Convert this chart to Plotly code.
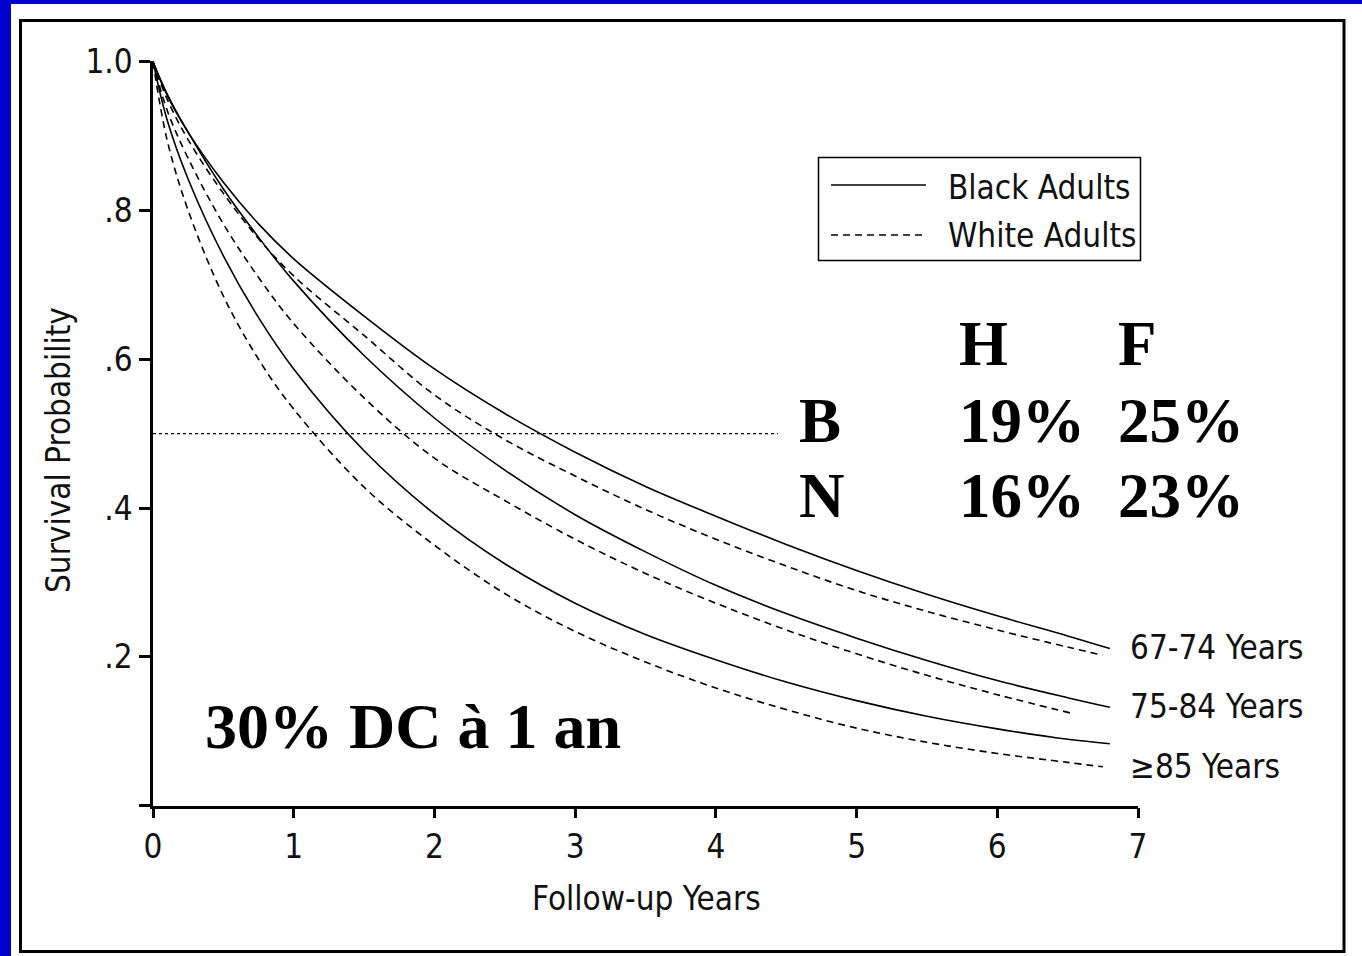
import plotly.graph_objects as go

W, H = 1362, 956

# Follow-up time (years) and survival probability for each age group / race
t_black_6774 = [0, 0.1, 0.25, 0.5, 0.75, 1, 1.5, 2, 2.5, 3, 3.5, 4, 4.5, 5, 5.5, 6, 6.5, 6.8]
s_black_6774 = [1, 0.955, 0.905, 0.838, 0.782, 0.735, 0.658, 0.587, 0.527, 0.475, 0.429, 0.389, 0.351, 0.316, 0.284, 0.255, 0.228, 0.211]

t_white_6774 = [0, 0.1, 0.25, 0.5, 0.75, 1, 1.5, 2, 2.5, 3, 3.5, 4, 4.5, 5, 5.5, 6, 6.5, 6.75]
s_white_6774 = [1, 0.95, 0.895, 0.823, 0.762, 0.712, 0.632, 0.552, 0.492, 0.443, 0.398, 0.358, 0.322, 0.289, 0.261, 0.236, 0.213, 0.202]

t_black_7584 = [0, 0.1, 0.25, 0.5, 0.75, 1, 1.5, 2, 2.5, 3, 3.5, 4, 4.5, 5, 5.5, 6, 6.5, 6.8]
s_black_7584 = [1, 0.957, 0.905, 0.829, 0.764, 0.705, 0.605, 0.521, 0.451, 0.391, 0.341, 0.296, 0.258, 0.225, 0.195, 0.168, 0.145, 0.132]

t_white_7584 = [0, 0.1, 0.25, 0.5, 0.75, 1, 1.5, 2, 2.5, 3, 3.5, 4, 4.5, 5, 5.5, 6, 6.55]
s_white_7584 = [1, 0.935, 0.87, 0.782, 0.71, 0.648, 0.548, 0.467, 0.41, 0.358, 0.312, 0.272, 0.236, 0.204, 0.175, 0.149, 0.123]

t_black_85 = [0, 0.1, 0.25, 0.5, 0.75, 1, 1.5, 2, 2.5, 3, 3.5, 4, 4.5, 5, 5.5, 6, 6.5, 6.8]
s_black_85 = [1, 0.922, 0.842, 0.739, 0.656, 0.587, 0.477, 0.392, 0.325, 0.272, 0.230, 0.196, 0.166, 0.141, 0.120, 0.103, 0.089, 0.083]

t_white_85 = [0, 0.1, 0.25, 0.5, 0.75, 1, 1.5, 2, 2.5, 3, 3.5, 4, 4.5, 5, 5.5, 6, 6.5, 6.75]
s_white_85 = [1, 0.895, 0.80, 0.685, 0.60, 0.533, 0.428, 0.35, 0.285, 0.234, 0.193, 0.158, 0.129, 0.104, 0.085, 0.070, 0.058, 0.052]

# Median reference line
median_t = [0, 4.44]
median_s = [0.5, 0.5]

x_ticks = [0, 1, 2, 3, 4, 5, 6, 7]
y_ticks = [0, 0.2, 0.4, 0.6, 0.8, 1.0]
y_tick_text = ["", ".2", ".4", ".6", ".8", "1.0"]

age_labels = ["67-74 Years", "75-84 Years", "\u226585 Years"]
age_label_y = [0.213, 0.1325, 0.052]

table_rows = [["", "H", "F"], ["B", "19%", "25%"], ["N", "16%", "23%"]]

NARROW = "DejaVu Sans Condensed, Liberation Sans Narrow, Arial Narrow, sans-serif"
SERIF = "Liberation Serif, Times New Roman, serif"
BLUE = "#0000CC"
INK = "#111111"
FS = 33

SOLID = dict(color="black", width=1.6)
DASHED = dict(color="black", width=1.6, dash="7px,5px")

fig = go.Figure()
series = [
    (t_black_6774, s_black_6774, SOLID),
    (t_white_6774, s_white_6774, DASHED),
    (t_black_7584, s_black_7584, SOLID),
    (t_white_7584, s_white_7584, DASHED),
    (t_black_85, s_black_85, SOLID),
    (t_white_85, s_white_85, DASHED),
]
for tx, sy, ln in series:
    fig.add_trace(go.Scatter(x=tx, y=sy, mode="lines", line=dict(shape="spline", smoothing=1.0, **ln),
                             showlegend=False, hoverinfo="skip"))

fig.add_trace(go.Scatter(x=median_t, y=median_s, mode="lines",
                         line=dict(color="black", width=1.2, dash="3px,3px"),
                         showlegend=False, hoverinfo="skip"))


def px_x(p):
    return p / W


def px_y(p):
    return 1 - p / H


shapes = [
    # white panel on blue page
    dict(type="rect", xref="paper", yref="paper", x0=px_x(11), x1=1.0, y0=0.0, y1=px_y(4),
         fillcolor="white", line=dict(width=0), layer="below"),
    # black frame
    dict(type="rect", xref="paper", yref="paper", x0=px_x(20.5), x1=px_x(1344), y0=px_y(951.5), y1=px_y(20.5),
         fillcolor="rgba(0,0,0,0)", line=dict(color="black", width=3), layer="below"),
    # legend box
    dict(type="rect", xref="paper", yref="paper", x0=px_x(818.5), x1=px_x(1140.5), y0=px_y(260.5), y1=px_y(157.5),
         fillcolor="white", line=dict(color="black", width=1.5)),
    dict(type="line", xref="paper", yref="paper", x0=px_x(831), x1=px_x(926), y0=px_y(185), y1=px_y(185),
         line=SOLID),
    dict(type="line", xref="paper", yref="paper", x0=px_x(831), x1=px_x(926), y0=px_y(235), y1=px_y(235),
         line=DASHED),
]

annotations = []
# legend text
for txt, yy in [("Black Adults", 187), ("White Adults", 235)]:
    annotations.append(dict(xref="paper", yref="paper", x=px_x(946), y=px_y(yy), text=txt, showarrow=False,
                            xanchor="left", yanchor="middle", font=dict(family=NARROW, size=FS, color=INK)))
# age group labels at the line ends
for txt, yy in zip(age_labels, age_label_y):
    annotations.append(dict(xref="x", yref="y", x=6.93, y=yy, text=txt, showarrow=False,
                            xanchor="left", yanchor="middle", font=dict(family=NARROW, size=FS, color=INK)))
# summary table
col_x = [797, 957, 1116]
row_y = [344, 421, 496]
for r, row in enumerate(table_rows):
    for c, txt in enumerate(row):
        if txt:
            annotations.append(dict(xref="paper", yref="paper", x=px_x(col_x[c]), y=px_y(row_y[r]),
                                    text="<b>%s</b>" % txt, showarrow=False, xanchor="left", yanchor="middle",
                                    font=dict(family=SERIF, size=63, color="black")))
annotations.append(dict(xref="paper", yref="paper", x=px_x(203), y=px_y(726), text="<b>30% DC à 1 an</b>",
                        showarrow=False, xanchor="left", yanchor="middle",
                        font=dict(family=SERIF, size=64, color="black")))
# axis titles
annotations.append(dict(xref="paper", yref="paper", x=px_x(646), y=px_y(898), text="Follow-up Years",
                        showarrow=False, xanchor="center", yanchor="middle",
                        font=dict(family=NARROW, size=FS, color=INK)))
annotations.append(dict(xref="paper", yref="paper", x=px_x(58), y=px_y(450), text="Survival Probability",
                        showarrow=False, xanchor="center", yanchor="middle", textangle=-90,
                        font=dict(family=NARROW, size=FS, color=INK)))

fig.update_layout(
    width=W, height=H,
    margin=dict(l=0, r=0, t=0, b=0, pad=0, autoexpand=False),
    paper_bgcolor=BLUE,
    plot_bgcolor="rgba(0,0,0,0)",
    shapes=shapes,
    annotations=annotations,
    xaxis=dict(domain=[px_x(153), px_x(1138)], range=[0, 7], tickvals=x_ticks,
               showgrid=False, zeroline=False, showline=True, linecolor="black", linewidth=2.5,
               ticks="outside", ticklen=10, tickwidth=2.5, tickcolor="black", automargin=False,
               tickfont=dict(family=NARROW, size=FS, color=INK), ticklabelstandoff=0),
    yaxis=dict(domain=[px_y(805.5), px_y(61)], range=[0, 1.001], tickvals=y_ticks, ticktext=y_tick_text,
               showgrid=False, zeroline=False, showline=True, linecolor="black", linewidth=2.5,
               ticks="outside", ticklen=11, tickwidth=2.5, tickcolor="black", automargin=False,
               tickfont=dict(family=NARROW, size=FS, color=INK), ticklabelstandoff=0),
)

fig.write_html("out.html")
